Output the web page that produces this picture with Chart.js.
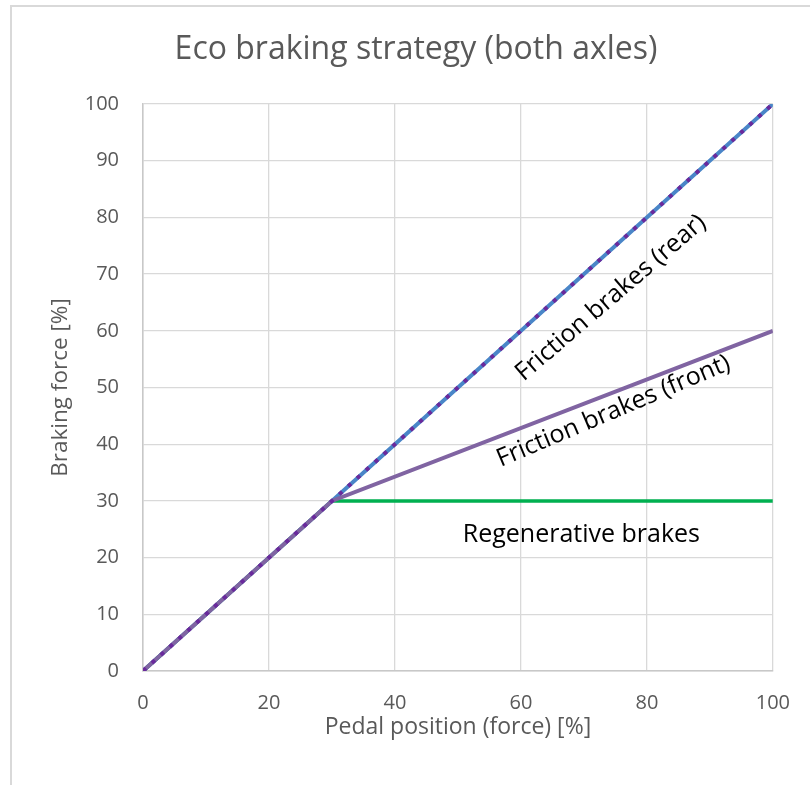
<!DOCTYPE html>
<html>
<head>
<meta charset="utf-8">
<script src="https://cdn.jsdelivr.net/npm/chart.js@4"></script>
<style>
  html, body { margin: 0; padding: 0; background: #fff; }
  #chart { display: block; }
</style>
</head>
<body>
<canvas id="chart" width="810" height="785"></canvas>
<script>
// данные
const pedalPos = [0, 30, 100];
const rearForce = [0, 30, 100];
const frontForce = [0, 30, 60];
const regenForce = [0, 30, 30];
const totalForce = [0, 30, 100];
const xTicks = [0, 20, 40, 60, 80, 100];
const yTicks = [0, 10, 20, 30, 40, 50, 60, 70, 80, 90, 100];

const chartTitle = 'Eco braking strategy (both axles)';
const labelTexts = ['Friction brakes (rear)', 'Friction brakes (front)', 'Regenerative brakes'];

// подписи на графике (позиция в единицах осей, угол в градусах)
const labelPlacement = [
  { x: 74.3, y: 65.8, angle: -40.5 },
  { x: 74.7, y: 45.8, angle: -23 },
  { x: 69.6, y: 24, angle: 0 },
];

const FONT = '"Open Sans", "Liberation Sans", sans-serif';
const GREY = '#595959';

const toPoints = ys => pedalPos.map((x, i) => ({ x, y: ys[i] }));

// рамка, заголовок и подписи
const decorPlugin = {
  id: 'decor',
  beforeDraw(chart) {
    const ctx = chart.ctx;
    ctx.save();
    ctx.strokeStyle = '#d9d9d9';
    ctx.lineWidth = 2;
    ctx.beginPath();
    ctx.moveTo(11, 800);
    ctx.lineTo(11, 6);
    ctx.lineTo(820, 6);
    ctx.stroke();

    ctx.fillStyle = GREY;
    ctx.font = '32px ' + FONT;
    ctx.textAlign = 'center';
    ctx.textBaseline = 'middle';
    ctx.fillText(chartTitle, 416, 50);
    ctx.restore();
  },
  afterDatasetsDraw(chart) {
    const ctx = chart.ctx;
    const xs = chart.scales.x, ys = chart.scales.y;
    ctx.save();
    ctx.fillStyle = '#000';
    ctx.font = '25px ' + FONT;
    ctx.textAlign = 'center';
    ctx.textBaseline = 'middle';
    labelTexts.forEach((t, i) => {
      const p = labelPlacement[i];
      ctx.save();
      ctx.translate(xs.getPixelForValue(p.x), ys.getPixelForValue(p.y));
      ctx.rotate(p.angle * Math.PI / 180);
      ctx.fillText(t, 0, 0);
      ctx.restore();
    });
    ctx.restore();
  }
};

// первый датасет рисуется поверх
new Chart(document.getElementById('chart'), {
  type: 'line',
  data: {
    datasets: [
      { data: toPoints(totalForce), borderColor: '#6a2a9c', borderWidth: 4, borderDash: [4, 8] },
      { data: toPoints(frontForce), borderColor: '#8064a2', borderWidth: 4 },
      { data: toPoints(regenForce), borderColor: '#00b050', borderWidth: 3.5 },
      { data: toPoints(rearForce), borderColor: '#4a86c8', borderWidth: 4 },
    ],
  },
  options: {
    responsive: false,
    animation: false,
    devicePixelRatio: 1,
    layout: { padding: { left: 0, right: 35, top: 104, bottom: 0 } },
    elements: { point: { radius: 0 }, line: { tension: 0, borderCapStyle: 'butt' } },
    plugins: {
      legend: { display: false },
      tooltip: { enabled: false },
      title: { display: false },
    },
    scales: {
      x: {
        type: 'linear',
        min: 0, max: 100,
        afterBuildTicks: s => { s.ticks = xTicks.map(v => ({ value: v })); },
        afterFit: s => { s.height = 114; },
        grid: { color: '#d9d9d9', lineWidth: 1.3, drawTicks: false },
        border: { color: '#c8c8c8', width: 1.5 },
        ticks: { color: GREY, padding: 20, font: { family: FONT, size: 20 } },
        title: {
          display: true,
          text: 'Pedal position (force) [%]',
          color: GREY,
          font: { family: FONT, size: 23, lineHeight: 1.2 },
          padding: { top: 0, bottom: 44 },
        },
      },
      y: {
        type: 'linear',
        min: 0, max: 100,
        afterBuildTicks: s => { s.ticks = yTicks.map(v => ({ value: v })); },
        afterFit: s => { s.width = 143; },
        grid: { color: '#d9d9d9', lineWidth: 1.3, drawTicks: false },
        border: { color: '#c8c8c8', width: 1.5 },
        ticks: { color: GREY, padding: 24, font: { family: FONT, size: 20 } },
        title: {
          display: true,
          text: 'Braking force [%]',
          color: GREY,
          font: { family: FONT, size: 22.5, lineHeight: 1.2 },
          padding: { top: 47, bottom: 0 },
        },
      },
    },
  },
  plugins: [decorPlugin],
});
</script>
</body>
</html>
